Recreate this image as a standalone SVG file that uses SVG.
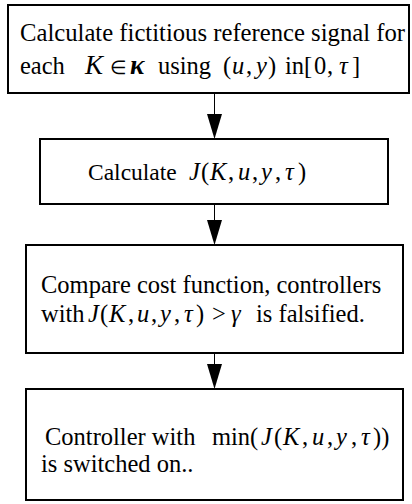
<svg xmlns="http://www.w3.org/2000/svg" width="412" height="504" viewBox="0 0 412 504">
<style>
.box{fill:#fff;stroke:#000;stroke-width:2}
.i{font-style:italic}
.c{stroke:#000;stroke-width:1;fill:none}
.h{fill:#000}
</style>
<rect width="412" height="504" fill="#fff"/>
<g id="connectors">
<line class="c" x1="214.5" y1="94" x2="214.5" y2="116"/>
<path class="h" d="M207,114 L222,114 L214.5,139 Z"/>
<line class="c" x1="214.5" y1="204" x2="214.5" y2="222"/>
<path class="h" d="M207,220 L222,220 L214.5,245 Z"/>
<line class="c" x1="214.5" y1="354" x2="214.5" y2="366"/>
<path class="h" d="M207,364 L222,364 L214.5,389 Z"/>
</g>
<g font-family="'Liberation Serif','Times New Roman',serif" font-size="24.5" fill="#000">
<g id="node1">
<rect class="box" x="8" y="5" width="401" height="88"/>
<text x="20" y="41" textLength="385" lengthAdjust="spacingAndGlyphs">Calculate fictitious reference signal for</text>
<text y="74"><tspan x="20">each</tspan><tspan x="85" class="i" font-size="27">K</tspan><tspan x="110" font-size="19">∈</tspan><tspan x="130" class="i" font-weight="bold" font-size="27">κ</tspan><tspan x="158">using</tspan><tspan x="223">(</tspan><tspan x="232" class="i">u</tspan><tspan x="246">,</tspan><tspan x="256" class="i">y</tspan><tspan x="268">)</tspan><tspan x="285">in</tspan><tspan x="304">[</tspan><tspan x="314">0</tspan><tspan x="327">,</tspan><tspan x="339" class="i">τ</tspan><tspan x="352">]</tspan></text>
</g>
<g id="node2">
<rect class="box" x="40" y="139" width="348" height="65"/>
<text y="180"><tspan x="88" font-size="23.5">Calculate</tspan><tspan x="189" class="i">J</tspan><tspan x="201">(</tspan><tspan x="210" class="i">K</tspan><tspan x="228">,</tspan><tspan x="238" class="i">u</tspan><tspan x="252">,</tspan><tspan x="261" class="i">y</tspan><tspan x="275">,</tspan><tspan x="285" class="i">τ</tspan><tspan x="298">)</tspan></text>
</g>
<g id="node3">
<rect class="box" x="26" y="245" width="377" height="108"/>
<text x="41" y="293">Compare cost function, controllers</text>
<text y="322"><tspan x="41">with</tspan><tspan x="88" class="i">J</tspan><tspan x="100">(</tspan><tspan x="109" class="i">K</tspan><tspan x="128">,</tspan><tspan x="137" class="i">u</tspan><tspan x="151">,</tspan><tspan x="160" class="i">y</tspan><tspan x="174">,</tspan><tspan x="184" class="i">τ</tspan><tspan x="196">)</tspan><tspan x="212">&gt;</tspan><tspan x="231" class="i">γ</tspan><tspan x="256">is falsified.</tspan></text>
</g>
<g id="node4">
<rect class="box" x="26" y="389" width="377" height="111"/>
<text y="445"><tspan x="45">Controller with</tspan><tspan x="212">min(</tspan><tspan x="261" class="i">J</tspan><tspan x="274">(</tspan><tspan x="283" class="i">K</tspan><tspan x="302">,</tspan><tspan x="312" class="i">u</tspan><tspan x="327">,</tspan><tspan x="336" class="i">y</tspan><tspan x="351">,</tspan><tspan x="361" class="i">τ</tspan><tspan x="373">))</tspan></text>
<text x="41" y="472">is  switched on..</text>
</g>
</g>
</svg>
